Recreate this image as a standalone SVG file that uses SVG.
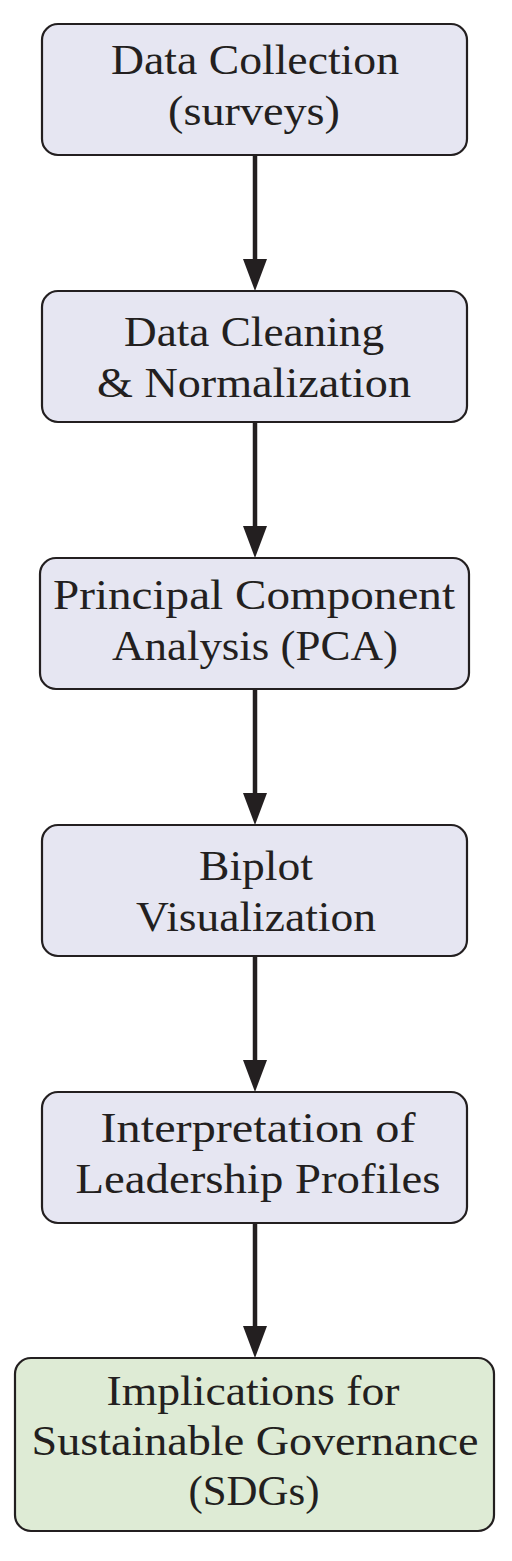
<svg xmlns="http://www.w3.org/2000/svg" width="512" height="1561" viewBox="0 0 512 1561">
<style>
.box{fill:#e6e6f2;stroke:#231f20;stroke-width:2.2}
.final{fill:#deebd5;stroke:#231f20;stroke-width:2.2}
.lbl{font-family:"Liberation Serif","Times New Roman",serif;font-size:42px;fill:#231f20;text-anchor:middle}
.edge{stroke:#231f20;stroke-width:4.5;fill:none}
.head{fill:#231f20}
</style>
<rect width="512" height="1561" fill="#ffffff"/>
<g id="connectors">
<line class="edge" x1="255" y1="155" x2="255" y2="262"/>
<polygon class="head" points="243,259 267,259 255,291"/>
<line class="edge" x1="255" y1="422" x2="255" y2="529"/>
<polygon class="head" points="243,526 267,526 255,558"/>
<line class="edge" x1="255" y1="689" x2="255" y2="796"/>
<polygon class="head" points="243,793 267,793 255,825"/>
<line class="edge" x1="255" y1="956" x2="255" y2="1063"/>
<polygon class="head" points="243,1060 267,1060 255,1092"/>
<line class="edge" x1="255" y1="1223" x2="255" y2="1329"/>
<polygon class="head" points="243,1326 267,1326 255,1358"/>
</g>
<g id="n1">
<rect class="box" x="42" y="24" width="425" height="131" rx="16"/>
<text class="lbl" x="255" y="74" textLength="288" lengthAdjust="spacingAndGlyphs">Data Collection</text>
<text class="lbl" x="254" y="125" textLength="172" lengthAdjust="spacingAndGlyphs">(surveys)</text>
</g>
<g id="n2">
<rect class="box" x="42" y="291" width="425" height="131" rx="16"/>
<text class="lbl" x="254" y="346" textLength="260" lengthAdjust="spacingAndGlyphs">Data Cleaning</text>
<text class="lbl" x="254" y="397" textLength="314" lengthAdjust="spacingAndGlyphs">&amp; Normalization</text>
</g>
<g id="n3">
<rect class="box" x="40" y="558" width="429" height="131" rx="16"/>
<text class="lbl" x="254" y="609" textLength="402" lengthAdjust="spacingAndGlyphs">Principal Component</text>
<text class="lbl" x="255" y="660" textLength="286" lengthAdjust="spacingAndGlyphs">Analysis (PCA)</text>
</g>
<g id="n4">
<rect class="box" x="42" y="825" width="425" height="131" rx="16"/>
<text class="lbl" x="256" y="880" textLength="114" lengthAdjust="spacingAndGlyphs">Biplot</text>
<text class="lbl" x="256" y="931" textLength="240" lengthAdjust="spacingAndGlyphs">Visualization</text>
</g>
<g id="n5">
<rect class="box" x="42" y="1092" width="425" height="131" rx="16"/>
<text class="lbl" x="258" y="1142" textLength="315" lengthAdjust="spacingAndGlyphs">Interpretation of</text>
<text class="lbl" x="258" y="1193" textLength="365" lengthAdjust="spacingAndGlyphs">Leadership Profiles</text>
</g>
<g id="n6">
<rect class="final" x="15" y="1358" width="479" height="173" rx="16"/>
<text class="lbl" x="253" y="1405" textLength="293" lengthAdjust="spacingAndGlyphs">Implications for</text>
<text class="lbl" x="255" y="1455" textLength="447" lengthAdjust="spacingAndGlyphs">Sustainable Governance</text>
<text class="lbl" x="254" y="1505" textLength="131" lengthAdjust="spacingAndGlyphs">(SDGs)</text>
</g>
</svg>
